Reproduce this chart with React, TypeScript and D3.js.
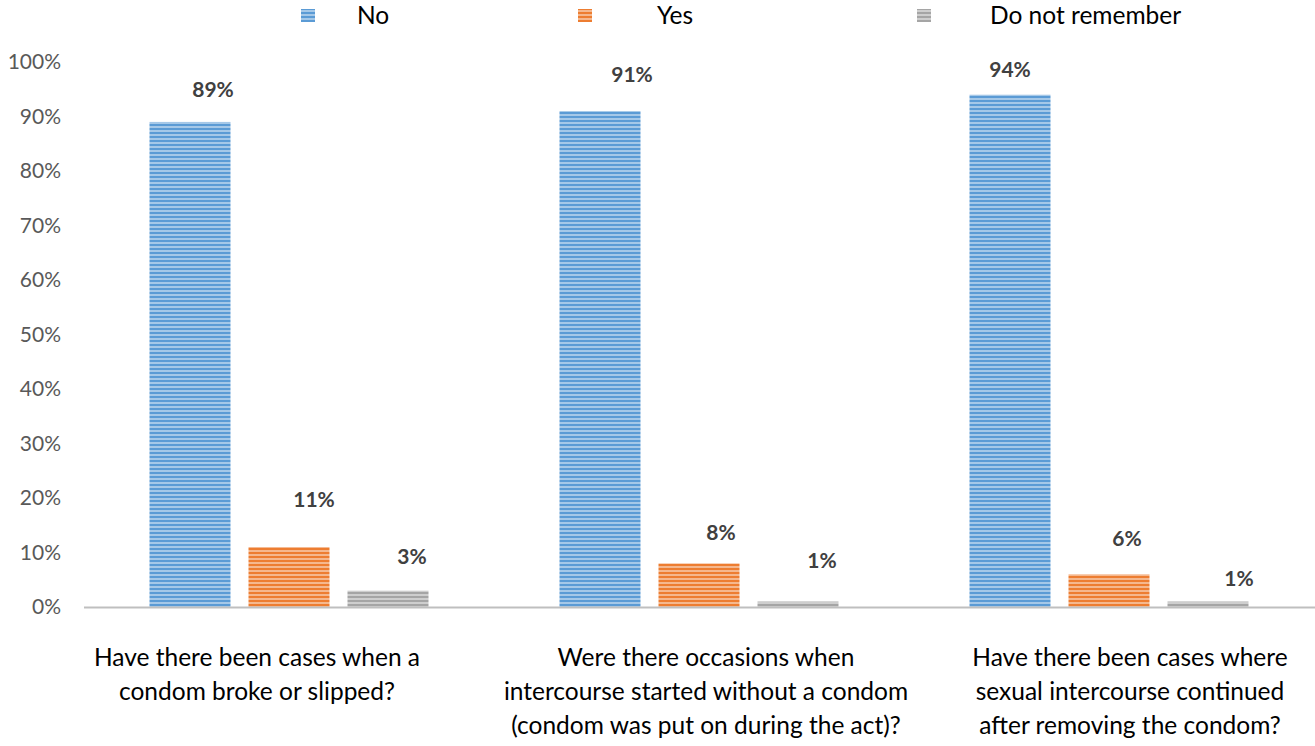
import React from "react";
import * as d3 from "d3";

const categories = [
  ["Have there been cases when a", "condom broke or slipped?"],
  ["Were there occasions when", "intercourse started without a condom", "(condom was put on during the act)?"],
  ["Have there been cases where", "sexual intercourse continued", "after removing the condom?"],
];
const seriesNames = ["No", "Yes", "Do not remember"];
const seriesColors = ["#5B9BD5", "#ED7D31", "#A5A5A5"];
const noValues = [0.89, 0.91, 0.94];
const yesValues = [0.11, 0.08, 0.06];
const dnrValues = [0.03, 0.01, 0.01];
const yTicks = [0, 0.1, 0.2, 0.3, 0.4, 0.5, 0.6, 0.7, 0.8, 0.9, 1.0];

// layout (manual label placement as in the original)
const labelOffsets = [
  [[23, -32], [32, -36], [0, -25]],
  [[25, -47], [22, -31], [18, -36]],
  [[24, -34], [24, -41], [31, -23]],
];
const catLabelDx = [-32, 7, 21];
const legendPos = [[301, 357], [578, 657], [917, 990]];

const W = 1315, H = 746;
const X0 = 84, X1 = 1314, Y0 = 607, Y1 = 62;
const FONT = "Lato, 'Open Sans', sans-serif";

export default function App() {
  const series = [noValues, yesValues, dnrValues];
  const x0 = d3.scaleBand<number>().domain([0, 1, 2]).range([X0, X1]).padding(0);
  const x1 = d3.scaleBand<number>().domain([0, 1, 2]).range([65.5, 344.5]).paddingInner(18 / 99).paddingOuter(0);
  const y = d3.scaleLinear().domain([0, 1]).range([Y0, Y1]);
  const fmt = d3.format(".0%");

  return (
    <svg width={W} height={H} style={{ position: "absolute", left: 0, top: 0, background: "#fff" }}>
      <defs>
        {seriesColors.map((c, i) => (
          <pattern key={i} id={`pat${i}`} width={6} height={4} patternUnits="userSpaceOnUse">
            <rect width={6} height={4} fill={d3.interpolateRgb(c, "#ffffff")(0.45)} />
            <rect width={6} height={2} fill={c} />
          </pattern>
        ))}
      </defs>
      {/* y tick labels */}
      {yTicks.map((t) => (
        <text key={t} x={61} y={y(t)} dy="0.35em" textAnchor="end" fontFamily={FONT} fontSize={21} fill="#595959">
          {fmt(t)}
        </text>
      ))}
      {/* bars */}
      {series.map((vals, s) =>
        vals.map((v, c) => {
          const bx = x0(c)! + x1(s)!;
          return (
            <rect key={`${s}-${c}`} x={bx} y={y(v)} width={x1.bandwidth()} height={Y0 - y(v)} fill={`url(#pat${s})`} />
          );
        })
      )}
      {/* axis line */}
      <line x1={X0} x2={W} y1={Y0 + 0.5} y2={Y0 + 0.5} stroke="#BFBFBF" strokeWidth={2} />
      {/* data labels */}
      {series.map((vals, s) =>
        vals.map((v, c) => {
          const cx = x0(c)! + x1(s)! + x1.bandwidth() / 2;
          const [dx, dy] = labelOffsets[s][c];
          return (
            <text key={`l${s}-${c}`} x={cx + dx} y={y(v) + dy} dy="0.35em" textAnchor="middle" fontFamily={FONT}
              fontWeight="bold" fontSize={21} fill="#404040">
              {fmt(v)}
            </text>
          );
        })
      )}
      {/* category labels */}
      {categories.map((lines, c) => (
        <text key={`c${c}`} textAnchor="middle" fontFamily={FONT} fontSize={24.5} fill="#000">
          {lines.map((ln, i) => (
            <tspan key={i} x={x0(c)! + x0.bandwidth() / 2 + catLabelDx[c]} y={657 + i * 34} dy="0.35em">{ln}</tspan>
          ))}
        </text>
      ))}
      {/* legend */}
      {seriesNames.map((n, i) => (
        <g key={`lg${i}`}>
          <rect x={legendPos[i][0]} y={9} width={14} height={13} fill={`url(#pat${i})`} />
          <text x={legendPos[i][1]} y={15.5} dy="0.35em" fontFamily={FONT} fontSize={24.5} fill="#000">{n}</text>
        </g>
      ))}
    </svg>
  );
}
